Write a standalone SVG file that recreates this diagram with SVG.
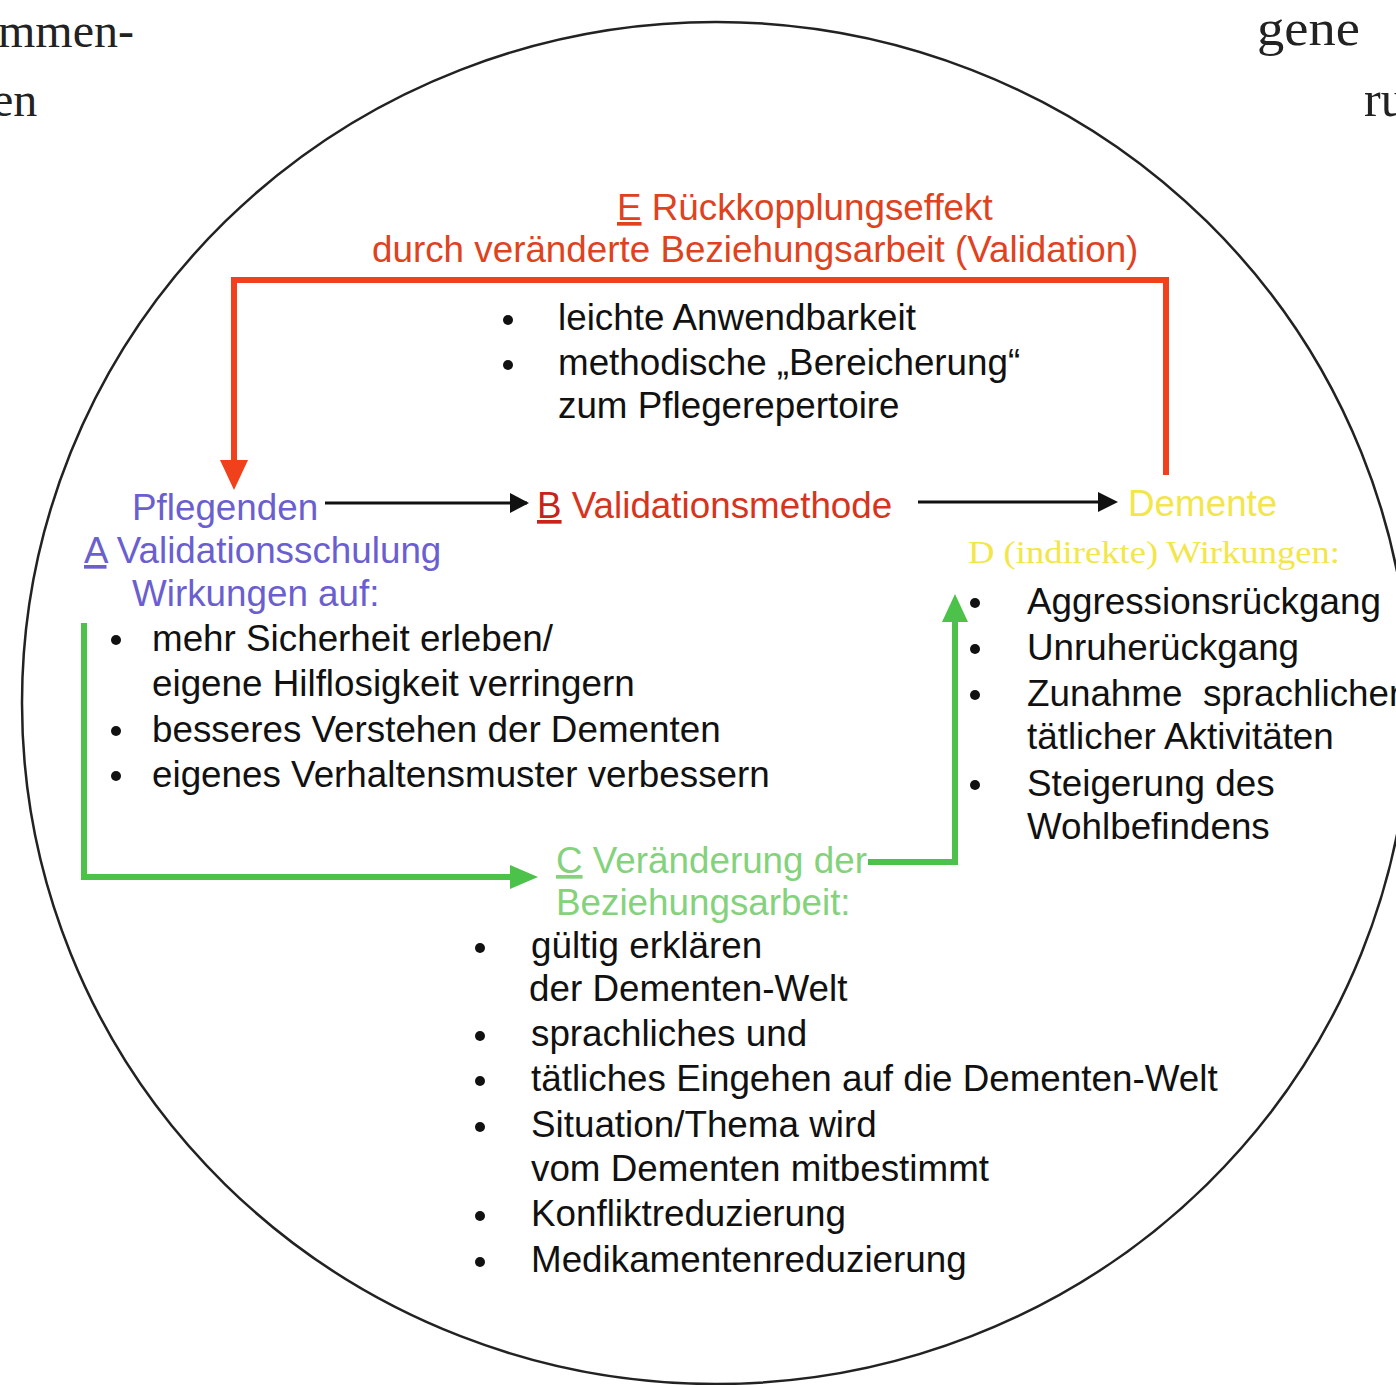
<svg xmlns="http://www.w3.org/2000/svg" width="1396" height="1385" viewBox="0 0 1396 1385">
<style>
.t{font-family:"Liberation Sans",Arial,sans-serif;font-size:36.8px;fill:#111}
.s{font-family:"Liberation Serif","Times New Roman",serif;fill:#222}
.blue{fill:#6b5fd0}
.red{fill:#e0421e}
.yel{fill:#f2e64a}
.grn{fill:#84d27c}
.conn{fill:none;stroke-linejoin:miter}
</style>
<defs>
<marker id="ab" viewBox="0 0 10 10" refX="10" refY="5" markerWidth="10" markerHeight="10" markerUnits="userSpaceOnUse" orient="auto"><path d="M0,0 L10,5 L0,10 z" fill="#111"/></marker>
</defs>
<rect width="1396" height="1385" fill="#fff"/>
<ellipse cx="716" cy="703" rx="694" ry="681" fill="none" stroke="#222" stroke-width="2.5"/>
<g id="page-text">
<text class="s" x="-2" y="47" font-size="48">mmen-</text>
<text class="s" x="-8" y="116" font-size="48">en</text>
<text class="s" x="1257" y="45" font-size="50" textLength="103" lengthAdjust="spacingAndGlyphs">gene</text>
<text class="s" x="1364" y="116" font-size="50">ru</text>
</g>
<g id="connectors">
<path class="conn" d="M1166,475 V280 H234 V462" stroke="#f0401c" stroke-width="6"/>
<path d="M220,460 L248,460 L234,490 z" fill="#f0401c"/>
<line x1="325" y1="503" x2="527" y2="503" stroke="#111" stroke-width="3" marker-end="url(#ab)"/>
<path d="M510,493 L529,503 L510,513 z" fill="#111"/>
<line x1="918" y1="502" x2="1100" y2="502" stroke="#111" stroke-width="3"/>
<path d="M1098,492 L1118,502 L1098,512 z" fill="#111"/>
<path class="conn" d="M84,623 V877 H512" stroke="#4cc24a" stroke-width="6"/>
<path d="M510,865 L538,877 L510,889 z" fill="#4cc24a"/>
<path class="conn" d="M868,862 H955 V620" stroke="#4cc24a" stroke-width="6"/>
<path d="M942,622 L968,622 L955,594 z" fill="#4cc24a"/>
</g>
<g id="node-E">
<text class="t red" x="617" y="220"><tspan text-decoration="underline">E</tspan> Rückkopplungseffekt</text>
<text class="t red" x="372" y="262">durch veränderte Beziehungsarbeit (Validation)</text>
</g>
<g id="node-E-bullets">
<circle cx="508" cy="320" r="5" fill="#111"/>
<circle cx="508" cy="365" r="5" fill="#111"/>
<text class="t" x="558" y="330">leichte Anwendbarkeit</text>
<text class="t" x="558" y="375">methodische „Bereicherung“</text>
<text class="t" x="558" y="418">zum Pflegerepertoire</text>
</g>
<g id="node-A">
<text class="t blue" x="132" y="520">Pflegenden</text>
<text class="t blue" x="84" y="563"><tspan text-decoration="underline">A</tspan> Validationsschulung</text>
<text class="t blue" x="132" y="606">Wirkungen auf:</text>
<circle cx="116" cy="640" r="5" fill="#111"/>
<circle cx="116" cy="731" r="5" fill="#111"/>
<circle cx="116" cy="776" r="5" fill="#111"/>
<text class="t" x="152" y="651">mehr Sicherheit erleben/</text>
<text class="t" x="152" y="696">eigene Hilflosigkeit verringern</text>
<text class="t" x="152" y="742">besseres Verstehen der Dementen</text>
<text class="t" x="152" y="787">eigenes Verhaltensmuster verbessern</text>
</g>
<g id="node-B">
<text class="t" x="537" y="518"><tspan fill="#c8221a" text-decoration="underline">B</tspan><tspan fill="#d8341c"> Validationsmethode</tspan></text>
</g>
<g id="node-D">
<text class="t yel" x="1128" y="516">Demente</text>
<text class="s yel" x="968" y="563" font-size="32" textLength="372" lengthAdjust="spacingAndGlyphs">D (indirekte) Wirkungen:</text>
<circle cx="975" cy="603" r="5" fill="#111"/>
<circle cx="975" cy="649" r="5" fill="#111"/>
<circle cx="975" cy="695" r="5" fill="#111"/>
<circle cx="975" cy="785" r="5" fill="#111"/>
<text class="t" x="1027" y="614">Aggressionsrückgang</text>
<text class="t" x="1027" y="660">Unruherückgang</text>
<text class="t" x="1027" y="706" xml:space="preserve">Zunahme  sprachlicher</text>
<text class="t" x="1027" y="749">tätlicher Aktivitäten</text>
<text class="t" x="1027" y="796">Steigerung des</text>
<text class="t" x="1027" y="839">Wohlbefindens</text>
</g>
<g id="node-C">
<text class="t grn" x="556" y="873"><tspan text-decoration="underline">C</tspan> Veränderung der</text>
<text class="t grn" x="556" y="915">Beziehungsarbeit:</text>
<circle cx="480" cy="948" r="5" fill="#111"/>
<circle cx="480" cy="1036" r="5" fill="#111"/>
<circle cx="480" cy="1081" r="5" fill="#111"/>
<circle cx="480" cy="1127" r="5" fill="#111"/>
<circle cx="480" cy="1216" r="5" fill="#111"/>
<circle cx="480" cy="1262" r="5" fill="#111"/>
<text class="t" x="531" y="958">gültig erklären</text>
<text class="t" x="529" y="1001">der Dementen-Welt</text>
<text class="t" x="531" y="1046">sprachliches und</text>
<text class="t" x="531" y="1091">tätliches Eingehen auf die Dementen-Welt</text>
<text class="t" x="531" y="1137">Situation/Thema wird</text>
<text class="t" x="531" y="1181">vom Dementen mitbestimmt</text>
<text class="t" x="531" y="1226">Konfliktreduzierung</text>
<text class="t" x="531" y="1272">Medikamentenreduzierung</text>
</g>
</svg>
